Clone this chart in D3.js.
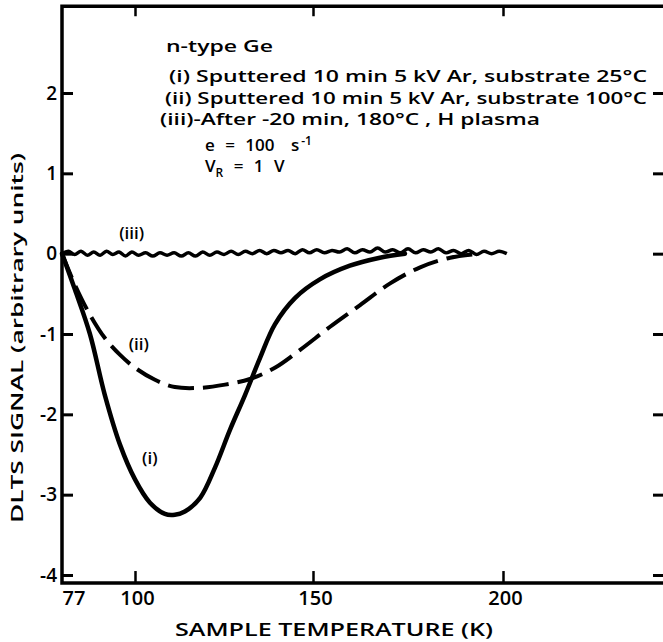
<!DOCTYPE html>
<html>
<head>
<meta charset="utf-8">
<script src="https://cdn.jsdelivr.net/npm/d3@7"></script>
<style>
  html, body { margin: 0; padding: 0; background: #fff; }
  svg { display: block; }
  text { font-family: "Open Sans", "DejaVu Sans", sans-serif; fill: #000; font-weight: 600; }
</style>
</head>
<body>
<svg id="chart" width="663" height="642"></svg>
<script>
// ---- data ----
const xTickValues = [77, 100, 150, 200];
const xTickLabels = ["77", "100", "150", "200"];
const yTickValues = [2, 1, 0, -1, -2, -3, -4];
const yTickLabels = ["2", "1", "0", "-1", "-2", "-3", "-4"];

// (i) Sputtered, substrate 25 C  (solid)
const tempI = [77, 81.1, 85.8, 90.5, 95.3, 100, 104.2, 108.4, 111.2, 114, 118.3, 122.5, 126.7, 130.9, 135.1, 139.3, 145, 151.8, 159.7, 167.6, 174.2];
const sigI  = [0, -0.45, -1.0, -1.76, -2.38, -2.81, -3.10, -3.24, -3.25, -3.21, -3.04, -2.66, -2.19, -1.76, -1.30, -0.88, -0.55, -0.32, -0.15, -0.05, 0];

// (ii) Sputtered, substrate 100 C (dashed)
const tempII = [77, 81.1, 85.8, 90.5, 95.3, 100, 105.6, 111.2, 118.3, 125.3, 132.3, 139.3, 146.3, 154.5, 162.4, 170.3, 178.2, 186.1, 194];
const sigII  = [0, -0.39, -0.76, -1.05, -1.26, -1.42, -1.57, -1.66, -1.67, -1.63, -1.56, -1.42, -1.20, -0.91, -0.64, -0.37, -0.17, -0.05, 0];

// (iii) After H plasma (noisy baseline)
const tempIII = [77,79,81,83,85,87,89,91,93,95,97,99,101,103,105,107,109,111,113,115,117,119,121,123,125,127,129,131,133,135,137,139,141,143,145,147,149,151,153,155,157,159,161,163,165,167,169,171,173,175,177,179,181,183,185,187,189,191,193,195,197,199,201];
const sigIII  = [0, 0.03, -0.01, 0.03, -0.02, 0.02, -0.02, 0.03, -0.01, 0.02,
                 -0.03, 0.02, -0.02, 0.01, -0.03, 0.01, -0.02, 0.01, -0.03, 0.01,
                 -0.03, 0.02, -0.02, 0.02, -0.01, 0.03, -0.01, 0.03, 0.00, 0.04,
                 0.00, 0.04, 0.01, 0.04, 0.00, 0.05, 0.01, 0.05, 0.01, 0.04,
                 0.02, 0.06, 0.01, 0.05, 0.02, 0.07, 0.02, 0.05, 0.01, 0.06,
                 0.01, 0.05, 0.02, 0.06, 0.01, 0.04, 0.00, 0.04, -0.01, 0.03,
                 0.00, 0.03, 0.00];

const legendLines = [
  "n-type Ge",
  "(i) Sputtered 10 min  5 kV Ar, substrate  25°C",
  "(ii) Sputtered 10 min  5 kV Ar, substrate 100°C",
  "(iii)-After -20 min, 180°C , H plasma"
];

// ---- scales ----
const svg = d3.select("#chart");
const x = d3.scaleLinear().domain([77, 100, 150, 200, 250]).range([62, 135, 313, 503, 693]);
const y = d3.scaleLinear().domain([-4, 2]).range([575, 93]);

const fLeft = x(77), fRight = x(245), fTop = y(3.08), fBottom = y(-4.1);

// frame
svg.append("path")
  .attr("d", `M${fRight},${fTop} L${fLeft},${fTop} L${fLeft},${fBottom} L${fRight},${fBottom}`)
  .attr("fill", "none").attr("stroke", "#000").attr("stroke-width", 3.5);
svg.append("line").attr("x1", fRight).attr("x2", fRight).attr("y1", fTop).attr("y2", fBottom)
  .attr("stroke", "#000").attr("stroke-width", 3.5);

// left axis (ticks inward)
const gl = svg.append("g").attr("transform", `translate(${fLeft},0)`)
  .call(d3.axisLeft(y).tickValues(yTickValues).tickSize(-11).tickPadding(5)
        .tickFormat((d, i) => yTickLabels[i]));
gl.select(".domain").remove();
gl.selectAll("line").attr("stroke", "#000").attr("stroke-width", 3);
gl.selectAll("text").style("font-size", "19px").attr("font-family", null);

// right axis
const gr = svg.append("g").attr("transform", `translate(${fRight},0)`)
  .call(d3.axisRight(y).tickValues(yTickValues).tickSize(-21).tickFormat(""));
gr.select(".domain").remove();
gr.selectAll("line").attr("stroke", "#000").attr("stroke-width", 3);

// bottom axis
const gb = svg.append("g").attr("transform", `translate(0,${fBottom})`)
  .call(d3.axisBottom(x).tickValues(xTickValues).tickSize(-12).tickPadding(8)
        .tickFormat((d, i) => xTickLabels[i]));
gb.select(".domain").remove();
gb.selectAll("line").attr("stroke", "#000").attr("stroke-width", 2.5);
gb.selectAll("text").style("font-size", "20px").attr("font-family", null).attr("dx", 2);
gb.selectAll(".tick").filter(d => d === 77).select("text").attr("text-anchor", "start").attr("dx", 0);
gb.selectAll(".tick").filter(d => d === 77).select("line").remove();

// top axis
const gt = svg.append("g").attr("transform", `translate(0,${fTop})`)
  .call(d3.axisTop(x).tickValues([100, 150, 200]).tickSize(-10).tickFormat(""));
gt.select(".domain").remove();
gt.selectAll("line").attr("stroke", "#000").attr("stroke-width", 2.5);

// axis titles
svg.append("text").attr("x", 334).attr("y", 636).attr("text-anchor", "middle")
  .style("font-size", "18px").attr("textLength", 318).attr("lengthAdjust", "spacingAndGlyphs")
  .text("SAMPLE TEMPERATURE  (K)");
svg.append("text").attr("transform", "translate(23,338) rotate(-90)").attr("text-anchor", "middle")
  .style("font-size", "17px").attr("textLength", 370).attr("lengthAdjust", "spacingAndGlyphs")
  .text("DLTS SIGNAL  (arbitrary units)");

// curves
const lineGen = (tArr, vArr, curve) => d3.line().curve(curve)
  .x((d, i) => x(tArr[i])).y((d, i) => y(vArr[i]))(tArr);

svg.append("path").attr("d", lineGen(tempIII, sigIII, d3.curveCardinal))
  .attr("fill", "none").attr("stroke", "#000").attr("stroke-width", 3.5).attr("stroke-linejoin", "round");
svg.append("path").attr("d", lineGen(tempII, sigII, d3.curveCatmullRom))
  .attr("fill", "none").attr("stroke", "#000").attr("stroke-width", 4)
  .attr("stroke-dasharray", "26,9");
svg.append("path").attr("d", lineGen(tempI, sigI, d3.curveCatmullRom))
  .attr("fill", "none").attr("stroke", "#000").attr("stroke-width", 4.5).attr("stroke-linecap", "round");

// curve labels
svg.append("text").attr("x", x(95)).attr("y", y(0.18)).style("font-size", "17px").text("(iii)");
svg.append("text").attr("x", x(98)).attr("y", y(-1.2)).style("font-size", "17px").text("(ii)");
svg.append("text").attr("x", x(102)).attr("y", y(-2.62)).style("font-size", "17px").text("(i)");

// legend block
const lg = [
  {x: 166, y: 52, w: 107},
  {x: 169, y: 82, w: 478},
  {x: 165, y: 104, w: 482},
  {x: 160, y: 125, w: 380}
];
legendLines.forEach((s, i) => {
  svg.append("text").attr("x", lg[i].x).attr("y", lg[i].y).style("font-size", "17px")
    .attr("textLength", lg[i].w).attr("lengthAdjust", "spacingAndGlyphs").text(s);
});
const e = svg.append("text").attr("x", 205).attr("y", 151).style("font-size", "17px")
  .style("word-spacing", "6px");
e.append("tspan").text("e = 100 ");
e.append("tspan").attr("dx", 6).text("s");
e.append("tspan").attr("dy", -6).attr("dx", 2).style("font-size", "12px").text("-1");
const v = svg.append("text").attr("x", 205).attr("y", 172).style("font-size", "17px")
  .style("word-spacing", "6px");
v.append("tspan").text("V");
v.append("tspan").attr("dy", 5).style("font-size", "12px").text("R");
v.append("tspan").attr("dy", -5).text(" = 1 V");
</script>
</body>
</html>
